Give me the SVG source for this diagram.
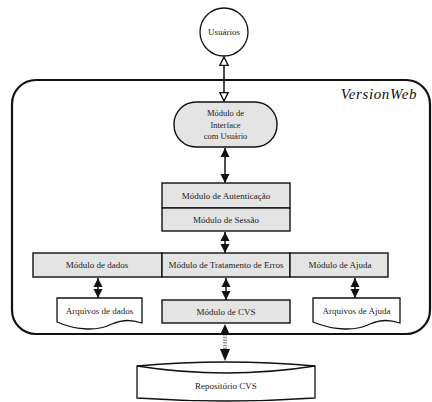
<svg xmlns="http://www.w3.org/2000/svg" width="432" height="402" viewBox="0 0 432 402">
<style>
text{font-family:"Liberation Serif","Times New Roman",serif;font-size:9px;fill:#222;text-anchor:middle}
.box{fill:#e4e4e4;stroke:#111;stroke-width:1.4}
.wb{fill:#fff;stroke:#111;stroke-width:1.3}
.c{stroke:#111;stroke-width:1.5;fill:none}
</style>
<defs>
<marker id="fa" viewBox="0 0 10 10" refX="10" refY="5" markerUnits="userSpaceOnUse" markerWidth="9" markerHeight="10" orient="auto-start-reverse"><path d="M0,0 L10,5 L0,10 Z" fill="#111"/></marker>
<marker id="ha" viewBox="0 0 12 12" refX="11" refY="6" markerUnits="userSpaceOnUse" markerWidth="10" markerHeight="11" orient="auto-start-reverse"><path d="M1,1 L11,6 L1,11 Z" fill="#fff" stroke="#111" stroke-width="1.6"/></marker>
</defs>
<rect x="12" y="80" width="418" height="254" rx="24" ry="24" fill="#fff" stroke="#111" stroke-width="2.2"/>
<text x="417" y="99" style="font-style:italic;font-size:15px;text-anchor:end;letter-spacing:0.6px;fill:#111">VersionWeb</text>
<g id="usuarios"><circle cx="224" cy="32" r="24" class="wb"/><text x="224" y="35">Usuários</text></g>
<g id="interface"><rect x="174" y="102" width="103" height="45" rx="22" ry="22" class="box"/><text x="225.5" y="116" style="font-size:8.5px">Módulo de</text><text x="225.5" y="127.5" style="font-size:8.5px">Interface</text><text x="225.5" y="139" style="font-size:8.5px">com Usuário</text></g>
<g id="autenticacao"><rect x="162" y="183" width="128" height="25" class="box"/><text x="226" y="199">Módulo de Autenticação</text></g>
<g id="sessao"><rect x="162" y="208" width="128" height="23" class="box"/><text x="226" y="222.5">Módulo de Sessão</text></g>
<g id="dados"><rect x="33" y="253" width="129" height="24" class="box"/><text x="97" y="268">Módulo de dados</text></g>
<g id="erros"><rect x="162" y="253" width="128" height="24" class="box"/><text x="226" y="268">Módulo de Tratamento de Erros</text></g>
<g id="ajuda"><rect x="290" y="253" width="98" height="24" class="box"/><text x="340" y="268">Módulo de Ajuda</text></g>
<g id="arq-dados"><path d="M57,298 H142 V323 C132,320 124,319 112,324 C98,331 78,331 57,322 Z" class="wb"/><text x="99.5" y="314">Arquivos de dados</text></g>
<g id="cvs"><rect x="162" y="300" width="128" height="23" class="box"/><text x="226" y="315">Módulo de CVS</text></g>
<g id="arq-ajuda"><path d="M313,298 H400 V323 C390,320 382,319 370,324 C356,331 335,331 313,322 Z" class="wb"/><text x="356.5" y="314">Arquivos de Ajuda</text></g>
<g id="repositorio"><path d="M137,366 Q226,358 315,366 L315,398 Q226,404 137,398 Z" class="wb"/><path d="M137,366 Q226,380 315,366" class="c" stroke-width="1.3"/><text x="226" y="389">Repositório CVS</text></g>
<g id="connectors">
<line x1="224" y1="57" x2="224" y2="101" class="c" marker-start="url(#ha)" marker-end="url(#ha)"/>
<line x1="225" y1="148" x2="225" y2="183" class="c" marker-start="url(#fa)" marker-end="url(#fa)"/>
<line x1="225" y1="232" x2="225" y2="253" class="c" marker-start="url(#fa)" marker-end="url(#fa)"/>
<line x1="98" y1="278" x2="98" y2="298" class="c" marker-start="url(#fa)" marker-end="url(#fa)"/>
<line x1="226" y1="278" x2="226" y2="300" class="c" marker-start="url(#fa)" marker-end="url(#fa)"/>
<line x1="355" y1="278" x2="355" y2="298" class="c" marker-start="url(#fa)" marker-end="url(#fa)"/>
<line x1="225" y1="334" x2="225" y2="349" stroke="#999" stroke-width="4" stroke-dasharray="1.5 1.2"/>
<path d="M225,324 L230,335 L220,335 Z M225,361 L230,349 L220,349 Z" fill="#111"/>
</g>
</svg>
